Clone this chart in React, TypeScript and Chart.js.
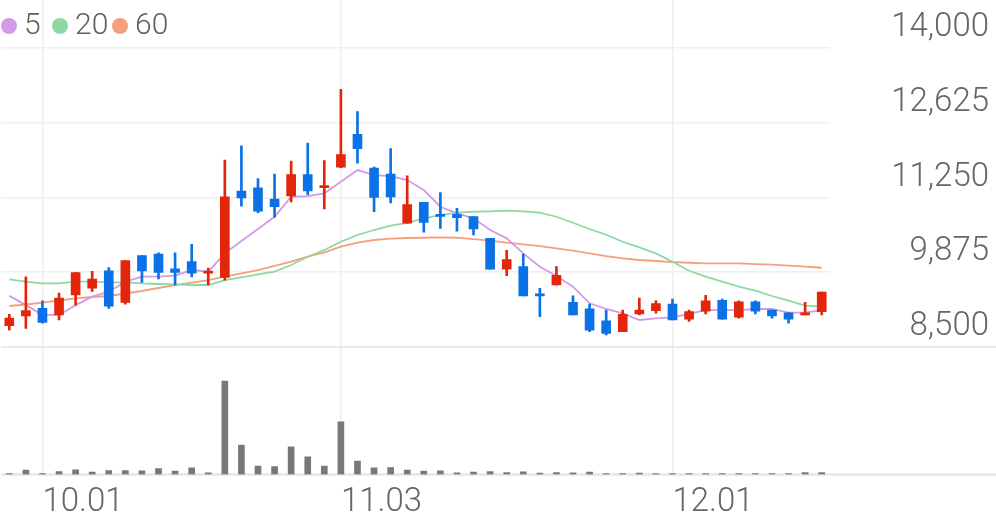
import { useEffect, useRef } from 'react';
import { Chart, registerables } from 'chart.js';

Chart.register(...registerables);

// ---- data ----
const DATES = [
  '09.29', '09.30', '10.01', '10.05', '10.06', '10.07', '10.08', '10.12', '10.13', '10.14',
  '10.15', '10.18', '10.19', '10.20', '10.21', '10.22', '10.26', '10.27', '10.28', '11.02',
  '11.03', '11.04', '11.07', '11.08', '11.09', '11.10', '11.11', '11.14', '11.15', '11.16',
  '11.17', '11.18', '11.21', '11.22', '11.23', '11.24', '11.25', '11.28', '11.29', '11.30',
  '12.01', '12.02', '12.05', '12.06', '12.07', '12.08', '12.09', '12.12', '12.13', '12.14',
];
const TICK_LABELS = ['10.01', '11.03', '12.01'];

const OPEN = [
  8890, 9070, 9210, 9090, 9460, 9580, 9900, 9320, 10180, 10210,
  9940, 10070, 9860, 9780, 11370, 11430, 11220, 11280, 11670, 11430,
  11810, 12410, 11790, 11680, 10780, 11160, 10940, 10940, 10900, 10500,
  9930, 9980, 9480, 9640, 9320, 9200, 8980, 8780, 9110, 9170,
  9290, 9010, 9160, 9360, 9050, 9330, 9180, 9130, 9090, 9150,
];
const HIGH = [
  9100, 9790, 9350, 9490, 9870, 9890, 9960, 10090, 10180, 10230,
  10230, 10390, 9950, 11940, 12200, 11600, 11680, 11920, 12250, 11930,
  13240, 12830, 11810, 12150, 11650, 11160, 11340, 11050, 10900, 10500,
  10280, 10210, 9580, 9980, 9440, 9290, 9180, 9180, 9400, 9350,
  9380, 9180, 9450, 9380, 9350, 9350, 9180, 9130, 9320, 9510,
];
const LOW = [
  8810, 8840, 8940, 9000, 9270, 9520, 9210, 9290, 9690, 9750,
  9640, 9790, 9640, 9730, 11090, 10970, 10890, 11170, 11300, 11040,
  11800, 11880, 10990, 11150, 10780, 10610, 10680, 10630, 10560, 9930,
  9810, 9440, 9060, 9640, 9090, 8780, 8720, 8780, 9090, 9120,
  9000, 8970, 9110, 9010, 9030, 9110, 9030, 8940, 9090, 9090,
];
const CLOSE = [
  9030, 9170, 8950, 9400, 9870, 9750, 9250, 10090, 9900, 9870,
  9870, 9860, 9890, 11260, 11240, 11000, 11080, 11670, 11370, 11470,
  12040, 12150, 11250, 11260, 11120, 10790, 10900, 10880, 10670, 9930,
  10110, 9440, 9440, 9820, 9090, 8810, 8750, 9100, 9180, 9300,
  9000, 9150, 9350, 9010, 9330, 9160, 9070, 9010, 9130, 9510,
];
// volume (thousand shares)
const VOLUME = [
  20, 86, 20, 60, 94, 46, 80, 80, 74, 120,
  66, 134, 34, 1866, 586, 166, 160, 554, 354, 166,
  1054, 266, 134, 140, 86, 66, 74, 34, 46, 60,
  40, 54, 26, 40, 34, 46, 20, 20, 26, 20,
  20, 14, 20, 20, 20, 14, 14, 20, 40, 40,
];
const MA5 = [
  9440, 9270, 9090, 9090, 9270, 9425, 9517, 9700, 9793, 9793,
  9811, 9916, 9885, 10223, 10449, 10670, 10896, 11264, 11277, 11327,
  11540, 11755, 11663, 11645, 11571, 11387, 11080, 10959, 10867, 10652,
  10499, 10223, 9977, 9806, 9609, 9304, 9199, 9120, 8997, 9028,
  9046, 9107, 9180, 9180, 9180, 9199, 9199, 9131, 9131, 9180,
];
const MA20 = [
  9745, 9701, 9671, 9671, 9701, 9701, 9690, 9690, 9671, 9659,
  9653, 9640, 9640, 9732, 9782, 9837, 9885, 10008, 10161, 10284,
  10436, 10560, 10652, 10731, 10783, 10867, 10927, 10970, 10988, 10995,
  11007, 10995, 10970, 10896, 10786, 10670, 10565, 10436, 10333, 10223,
  10069, 9903, 9793, 9701, 9609, 9535, 9438, 9351, 9260, 9241,
];
const MA60 = [
  9254, 9282, 9315, 9355, 9396, 9420, 9438, 9484, 9530, 9585,
  9640, 9686, 9732, 9793, 9855, 9916, 9990, 10069, 10161, 10242,
  10345, 10418, 10468, 10492, 10505, 10510, 10517, 10510, 10486, 10455,
  10418, 10389, 10357, 10315, 10271, 10223, 10170, 10131, 10100, 10082,
  10063, 10050, 10039, 10039, 10039, 10026, 10014, 9995, 9977, 9958,
];
const MA_LABELS = ['5', '20', '60'];
const PRICE_TICKS = [8500, 9875, 11250, 12625, 14000];

// ---- styles ----
const UP = '#e2260b';
const DOWN = '#0a72e6';
const MA_COLORS = ['#d49ae8', '#8cd9a2', '#f5a07c'];
const VOL_COLOR = '#787878';
const GRID = '#efefef';
const TEXT = '#666666';
const FONT_FAMILY = 'Roboto';
const AXIS_FONT_SIZE = 33;
const PRICE_MIN = 6154.5;
const PRICE_MAX = 14883;
const VOLUME_AXIS_MAX = 9490;

const fmt = (v: number) => Number(v).toLocaleString('en-US');

export default function App() {
  const ref = useRef<HTMLCanvasElement>(null);

  useEffect(() => {
    const canvas = ref.current;
    if (!canvas) return;

    const candleColors = OPEN.map((o, i) => (CLOSE[i] >= o ? UP : DOWN));

    const extras = {
      id: 'extras',
      beforeDatasetsDraw(chart: any) {
        const { ctx, chartArea } = chart;
        const y = chart.scales.y.getPixelForValue(PRICE_TICKS[0]);
        ctx.save();
        ctx.strokeStyle = '#ebebeb';
        ctx.lineWidth = 2;
        ctx.beginPath();
        ctx.moveTo(chartArea.left, y);
        ctx.lineTo(chart.width, y);
        ctx.stroke();
        ctx.strokeStyle = '#e6e6e6';
        ctx.lineWidth = 2.5;
        ctx.beginPath();
        ctx.moveTo(chartArea.left, chartArea.bottom);
        ctx.lineTo(chart.width, chartArea.bottom);
        ctx.stroke();
        ctx.restore();
      },
      afterDraw(chart: any) {
        const { ctx } = chart;
        const lefts = [1, 52, 112];
        ctx.save();
        ctx.font = `300 30px ${FONT_FAMILY}`;
        ctx.textBaseline = 'middle';
        ctx.textAlign = 'left';
        MA_LABELS.forEach((label, i) => {
          const x = lefts[i];
          ctx.fillStyle = MA_COLORS[i];
          ctx.beginPath();
          ctx.arc(x + 8, 26, 8, 0, Math.PI * 2);
          ctx.fill();
          ctx.fillStyle = '#5f5f5f';
          ctx.fillText(label, x + 23, 26);
        });
        ctx.restore();
      },
    };

    const maSets = [MA5, MA20, MA60].map((d, i) => ({
      type: 'line' as const,
      label: MA_LABELS[i],
      data: d,
      yAxisID: 'y',
      borderColor: MA_COLORS[i],
      backgroundColor: MA_COLORS[i],
      borderWidth: 1.8,
      pointRadius: 0,
      tension: 0,
      order: 3,
    }));

    const chart = new Chart(canvas, {
      type: 'bar',
      data: {
        labels: DATES,
        datasets: [
          ...maSets,
          {
            type: 'bar',
            label: 'wick',
            data: LOW.map((l, i) => [l, HIGH[i]]),
            yAxisID: 'y',
            backgroundColor: candleColors,
            barThickness: 2,
            grouped: false,
            borderWidth: 0,
            order: 2,
          },
          {
            type: 'bar',
            label: 'body',
            data: OPEN.map((o, i) => [o, CLOSE[i]]),
            yAxisID: 'y',
            backgroundColor: candleColors,
            barThickness: 9,
            minBarLength: 2,
            grouped: false,
            borderWidth: 0,
            order: 1,
          },
          {
            type: 'bar',
            label: 'volume',
            data: VOLUME,
            yAxisID: 'yv',
            backgroundColor: VOL_COLOR,
            barThickness: 6,
            minBarLength: 1,
            grouped: false,
            borderWidth: 0,
            order: 4,
          },
        ] as any,
      },
      options: {
        responsive: false,
        animation: false,
        devicePixelRatio: 1,
        layout: { padding: { left: 1, top: 0, right: 7, bottom: 0 }, autoPadding: false } as any,
        plugins: { legend: { display: false }, tooltip: { enabled: false } },
        scales: {
          x: {
            type: 'category',
            offset: true,
            grid: {
              offset: false,
              drawTicks: false,
              lineWidth: 1.5,
              color: (c: any) => (TICK_LABELS.includes(DATES[c.index]) ? '#eeeeee' : 'rgba(0,0,0,0)'),
            },
            border: { display: false },
            ticks: {
              autoSkip: false,
              maxRotation: 0,
              minRotation: 0,
              align: 'start',
              padding: 8,
              color: TEXT,
              font: { family: FONT_FAMILY, size: AXIS_FONT_SIZE, weight: '300' as any },
              callback: (_v: any, i: number) => (TICK_LABELS.includes(DATES[i]) ? DATES[i] : ''),
            },
            afterFit: (s: any) => {
              s.height = 44.5;
              s.paddingLeft = 0;
              s.paddingRight = 0;
            },
          },
          y: {
            position: 'right',
            min: PRICE_MIN,
            max: PRICE_MAX,
            afterBuildTicks: (s: any) => {
              s.ticks = PRICE_TICKS.map((v) => ({ value: v }));
            },
            grid: { drawTicks: false, color: GRID, lineWidth: 1.5 },
            border: { display: false },
            ticks: {
              crossAlign: 'far',
              padding: 10,
              labelOffset: -20,
              color: TEXT,
              font: { family: FONT_FAMILY, size: AXIS_FONT_SIZE, weight: '300' as any },
              callback: (v: any) => fmt(v),
            },
            afterFit: (s: any) => {
              s.width = 159;
              s.paddingTop = 0;
              s.paddingBottom = 0;
            },
          },
          yv: {
            display: false,
            min: 0,
            max: VOLUME_AXIS_MAX,
          },
        },
      } as any,
      plugins: [extras],
    });
    return () => chart.destroy();
  }, []);

  return (
    <div style={{ position: 'fixed', left: 0, top: 0, width: 996, height: 519, background: '#fff' }}>
      <canvas ref={ref} width={996} height={519} style={{ display: 'block' }} />
    </div>
  );
}
